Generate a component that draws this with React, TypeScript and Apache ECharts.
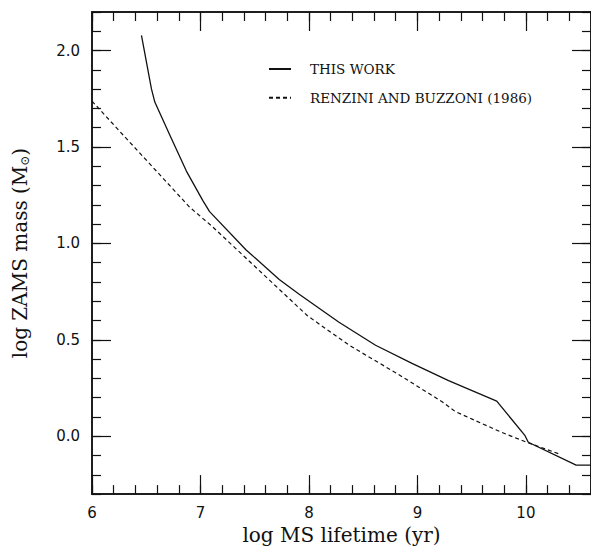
import React, { useEffect, useRef } from "react";
import * as echarts from "echarts";

const thisWorkX = [6.456, 6.548, 6.579, 6.717, 6.87, 7.022, 7.084, 7.421, 7.726, 7.91, 8.277, 8.614, 8.95, 9.287, 9.731, 9.992, 10.022, 10.463, 10.6];
const thisWorkY = [2.079, 1.801, 1.733, 1.562, 1.375, 1.222, 1.165, 0.966, 0.813, 0.736, 0.591, 0.472, 0.378, 0.288, 0.182, 0.003, -0.031, -0.15, -0.15];

const rbX = [6.0, 6.287, 6.594, 6.9, 7.114, 7.421, 7.726, 7.986, 8.371, 8.83, 9.241, 9.349, 9.777, 10.006, 10.313];
const rbY = [1.738, 1.562, 1.375, 1.188, 1.085, 0.923, 0.762, 0.625, 0.472, 0.319, 0.174, 0.128, 0.02, -0.031, -0.093];

const xTicks = [6, 7, 8, 9, 10];
const yTicks = [0, 0.5, 1.0, 1.5, 2.0];
const seriesNames = ["THIS WORK", "RENZINI AND BUZZONI (1986)"];

const X_MIN = 6, X_MAX = 10.6, Y_MIN = -0.3, Y_MAX = 2.2;

export default function App() {
  const ref = useRef<HTMLDivElement>(null);
  useEffect(() => {
    document.body.style.margin = "0";
    document.documentElement.style.overflow = "hidden";
    document.body.style.overflow = "hidden";
    const chart = echarts.init(ref.current!, null, { renderer: "svg" });
    const black = "#111";
    const line = { show: true, onZero: false, lineStyle: { color: black, width: 1.5 } };
    const tickFont = { fontFamily: "DejaVu Sans", fontSize: 15, color: black };
    const nameFont = { fontFamily: "DejaVu Serif", fontSize: 20, color: black };
    const minorX = (pos: string) => ({
      type: "value", position: pos, min: X_MIN, max: X_MAX, interval: 0.2,
      axisLine: line, splitLine: { show: false },
      axisTick: { show: true, inside: true, length: 9, lineStyle: { color: black, width: 1.2 } },
      axisLabel: { show: false },
    });
    const majorX = (pos: string, labels: boolean) => ({
      type: "value", position: pos, min: X_MIN, max: X_MAX,
      axisLine: line, splitLine: { show: false },
      axisTick: { show: true, inside: true, length: 19, customValues: xTicks, lineStyle: { color: black, width: 1.2 } },
      axisLabel: labels ? { show: true, customValues: xTicks, margin: 11, ...tickFont, formatter: (v: number) => String(v) } : { show: false },
      ...(labels ? { name: "log MS lifetime (yr)", nameLocation: "middle", nameGap: 27, nameTextStyle: nameFont } : {}),
    });
    const minorY = (pos: string) => ({
      type: "value", position: pos, min: Y_MIN, max: Y_MAX, interval: 0.1,
      axisLine: line, splitLine: { show: false },
      axisTick: { show: true, inside: true, length: 9, lineStyle: { color: black, width: 1.2 } },
      axisLabel: { show: false },
    });
    const majorY = (pos: string, labels: boolean) => ({
      type: "value", position: pos, min: Y_MIN, max: Y_MAX,
      axisLine: line, splitLine: { show: false },
      axisTick: { show: true, inside: true, length: 19, customValues: yTicks, lineStyle: { color: black, width: 1.2 } },
      axisLabel: labels ? { show: true, customValues: yTicks, margin: 12, ...tickFont, formatter: (v: number) => v.toFixed(1) } : { show: false },
      ...(labels ? {
        name: "{a|log ZAMS mass (M}{s|⊙}{a|)}", nameLocation: "middle", nameGap: 61, nameRotate: 90,
        nameTextStyle: {
          rich: {
            a: { fontFamily: "DejaVu Serif", fontSize: 20, color: black },
            s: { fontFamily: "DejaVu Serif", fontSize: 12, color: black, verticalAlign: "bottom", padding: [10, 0, 0, 0] },
          },
        },
      } : {}),
    });
    chart.setOption({
      animation: false,
      backgroundColor: "#fff",
      grid: { left: 92, top: 12, right: -2, bottom: 49, containLabel: false },
      xAxis: [minorX("bottom"), majorX("bottom", true), minorX("top"), majorX("top", false)],
      yAxis: [minorY("left"), majorY("left", true), minorY("right"), majorY("right", false)],
      legend: {
        orient: "vertical", left: 263, top: 57, itemWidth: 22, itemHeight: 14, itemGap: 14.7,
        data: seriesNames,
        itemStyle: { opacity: 0 },
        textStyle: { fontFamily: "DejaVu Serif", fontSize: 13.5, color: black, padding: [0, 0, 0, 14] },
      },
      series: [
        {
          name: seriesNames[0], type: "line", xAxisIndex: 0, yAxisIndex: 0, symbol: "none",
          data: thisWorkX.map((x, i) => [x, thisWorkY[i]]),
          lineStyle: { color: black, width: 1.3, type: "solid" },
          itemStyle: { color: black },
        },
        {
          name: seriesNames[1], type: "line", xAxisIndex: 0, yAxisIndex: 0, symbol: "none",
          data: rbX.map((x, i) => [x, rbY[i]]),
          lineStyle: { color: black, width: 1.2, type: [4, 3] },
          itemStyle: { color: black },
        },
      ],
    });
    return () => chart.dispose();
  }, []);
  return <div ref={ref} style={{ width: 591, height: 550, overflow: "hidden" }} />;
}
